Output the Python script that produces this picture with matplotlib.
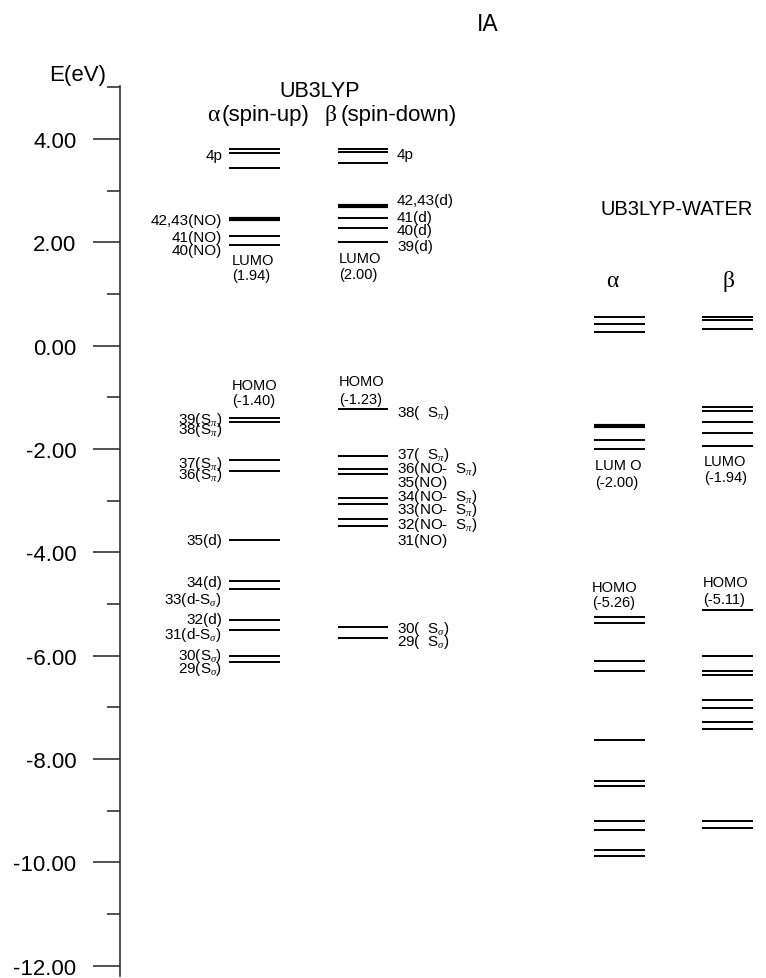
import numpy as np
import matplotlib
matplotlib.use("Agg")
import matplotlib.pyplot as plt
from matplotlib.ticker import FixedLocator, FormatStrFormatter

plt.rcParams['font.family'] = ['Liberation Sans', 'DejaVu Sans']
plt.rcParams['axes.unicode_minus'] = False
plt.rcParams['mathtext.fontset'] = 'custom'
plt.rcParams['mathtext.rm'] = 'Liberation Serif'
plt.rcParams['mathtext.it'] = 'Liberation Serif:italic'

# orbital energies (eV)
gas_alpha = [3.81, 3.73, 3.44, 2.45, 2.13, 1.94,
             -1.40, -1.47, -2.22, -2.43, -3.77, -4.56, -4.70,
             -5.31, -5.50, -6.01, -6.12]
gas_beta = [3.81, 3.75, 3.54, 2.71, 2.48, 2.27, 2.00,
            -1.23, -2.13, -2.38, -2.49, -2.95, -3.07, -3.35, -3.49,
            -5.45, -5.66]
water_alpha = [0.56, 0.42, 0.27, -1.55, -1.82, -2.00,
               -5.26, -5.36, -6.11, -6.30, -7.64, -8.43, -8.53,
               -9.19, -9.38, -9.77, -9.88]
water_beta = [0.56, 0.49, 0.33, -1.19, -1.26, -1.47, -1.69, -1.94,
              -5.11, -6.01, -6.30, -6.38, -6.85, -7.02, -7.29, -7.41,
              -9.20, -9.34]
# doubly degenerate levels drawn thicker
gas_alpha_deg = [2.45]
gas_beta_deg = [2.71]
water_alpha_deg = [-1.55]

alpha_labels = ["4p", "42,43(NO)", "41(NO)", "40(NO)",
                r"39(S$_\pi$)", r"38(S$_\pi$)", r"37(S$_\pi$)", r"36(S$_\pi$)",
                "35(d)", "34(d)", r"33(d-S$_\sigma$)", "32(d)", r"31(d-S$_\sigma$)",
                r"30(S$_\sigma$)", r"29(S$_\sigma$)"]
alpha_label_e = [3.69, 2.44, 2.10, 1.85, -1.41, -1.61, -2.28, -2.48,
                 -3.77, -4.57, -4.90, -5.29, -5.58, -5.99, -6.24]
beta_labels = ["4p", "42,43(d)", "41(d)", "40(d)", "39(d)",
               r"38(  S$_\pi$)", r"37(  S$_\pi$)", r"36(NO-  S$_\pi$)", "35(NO)",
               r"34(NO-  S$_\pi$)", r"33(NO-  S$_\pi$)", r"32(NO-  S$_\pi$)", "31(NO)",
               r"30(  S$_\sigma$)", r"29(  S$_\sigma$)"]
beta_label_e = [3.71, 2.81, 2.50, 2.23, 1.92, -1.29, -2.10, -2.37, -2.63,
                -2.90, -3.17, -3.46, -3.76, -5.47, -5.71]

# figure in pixel units horizontally, eV vertically
px_per_ev = 51.67
def e_at(y):
    return 4.0 - (y - 140) / px_per_ev

fig = plt.figure(figsize=(7.66, 9.79), dpi=100)
ax = fig.add_axes([0, 0, 1, 1])
ax.set_xlim(0, 766)
ax.set_ylim(e_at(979), e_at(0))
for s in ['top', 'right', 'bottom']:
    ax.spines[s].set_visible(False)
ax.spines['left'].set_position(('data', 120))
ax.spines['left'].set_bounds(-12.19, 5.03)
ax.spines['left'].set_color('#333333')
ax.spines['left'].set_linewidth(1.2)
ax.set_xticks([])
ax.yaxis.set_major_locator(FixedLocator(np.arange(-12, 5, 2)))
ax.yaxis.set_minor_locator(FixedLocator(np.arange(-11, 6, 2)))
ax.yaxis.set_major_formatter(FormatStrFormatter('%.2f'))
ax.tick_params(axis='y', which='major', length=19.5, width=1.1, pad=12,
               labelsize=16, color='#222222')
ax.tick_params(axis='y', which='minor', length=9.5, width=1.1, color='#222222')

def levels(energies, x0, x1, deg):
    thin = [e for e in energies if e not in deg]
    ax.hlines(thin, x0, x1, colors='black', linewidth=1.4)
    ax.hlines(deg, x0, x1, colors='black', linewidth=3.0)

levels(gas_alpha, 229, 280, gas_alpha_deg)
levels(gas_beta, 338, 388, gas_beta_deg)
levels(water_alpha, 594, 645, water_alpha_deg)
levels(water_beta, 702, 753, [])

for t, e in zip(alpha_labels, alpha_label_e):
    ax.text(222, e, t, ha='right', va='center', fontsize=11)
for t, e in zip(beta_labels, beta_label_e):
    ax.text(397, e, t, ha='left', va='center', fontsize=11)

# HOMO / LUMO annotations
def two_line(x, y1, y2, t1, t2):
    ax.text(x, e_at(y1), t1, ha='left', va='center', fontsize=10.5)
    ax.text(x, e_at(y2), t2, ha='left', va='center', fontsize=10.5)

two_line(232, 261, 276, "LUMO", "(1.94)")
two_line(339, 259, 275, "LUMO", "(2.00)")
two_line(232, 386, 401, "HOMO", "(-1.40)")
two_line(339, 382, 400, "HOMO", "(-1.23)")
two_line(595, 466, 482.7, "LUM O", "(-2.00)")
two_line(704, 461.7, 478.3, "LUMO", "(-1.94)")
two_line(592, 587.7, 603.3, "HOMO", "(-5.26)")
two_line(703, 583.3, 600, "HOMO", "(-5.11)")

# headers
ax.text(106, e_at(75), "E(eV)", ha='right', va='center', fontsize=16)
ax.text(488, e_at(24), "IA", ha='center', va='center', fontsize=16.5)
ax.text(320, e_at(91), "UB3LYP", ha='center', va='center', fontsize=15.5)
ax.text(207, e_at(115), "α", ha='left', va='center', fontsize=17, family='Liberation Serif')
ax.text(222, e_at(115), "(spin-up)", ha='left', va='center', fontsize=16)
ax.text(325, e_at(115), "β", ha='left', va='center', fontsize=17, family='Liberation Serif')
ax.text(341, e_at(115), "(spin-down)", ha='left', va='center', fontsize=16)
ax.text(677, e_at(209), "UB3LYP-WATER", ha='center', va='center', fontsize=14.5)
ax.text(612, e_at(281), "α", ha='center', va='center', fontsize=17, family='Liberation Serif')
ax.text(728, e_at(281), "β", ha='center', va='center', fontsize=17, family='Liberation Serif')

fig.savefig("out.png", dpi=100)
